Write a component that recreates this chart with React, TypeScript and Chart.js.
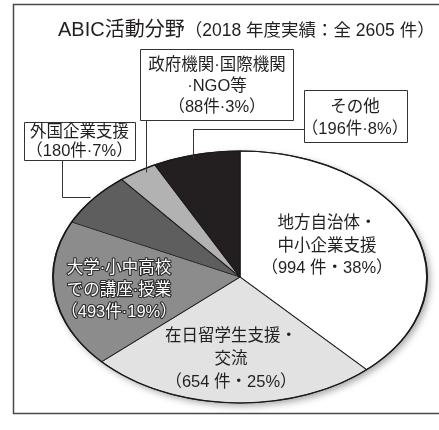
import React, { useEffect, useRef } from "react";
import { Chart, registerables } from "chart.js";

Chart.register(...registerables);

// ---- data ----
const categories = [
  "地方自治体・中小企業支援",
  "在日留学生支援・交流",
  "大学·小中高校での講座·授業",
  "外国企業支援",
  "政府機関·国際機関·NGO等",
  "その他",
];
const counts = [994, 654, 493, 180, 88, 196];
const percents = [38, 25, 19, 7, 3, 8];
const sliceColors = ["#ffffff", "#e2e2e2", "#8c8c8c", "#5e5e5e", "#b2b2b2", "#231f20"];
const titleMain = "ABIC活動分野";
const titleSub = "（2018 年度実績：全 2605 件）";

const labelLines: string[][] = [
  ["地方自治体・", "中小企業支援", `（${counts[0]} 件・${percents[0]}%）`],
  ["在日留学生支援・", "交流", `（${counts[1]} 件・${percents[1]}%）`],
  ["大学·小中高校", "での講座·授業", `（${counts[2]}件·${percents[2]}%）`],
  ["外国企業支援", `（${counts[3]}件·${percents[3]}%）`],
  ["政府機関·国際機関", "·NGO等", `（${counts[4]}件·${percents[4]}%）`],
  ["その他", `（${counts[5]}件·${percents[5]}%）`],
];

// ---- layout (positions / styles) ----
const ELLIPSE = { cx: 240, cy: 277, rx: 187, ry: 126 };
const FONT = '"Liberation Sans", "Noto Sans CJK JP", sans-serif';
const TEXT = "#231f20";

type Inside = { idx: number; x: number; ys: number[]; outline?: boolean };
const insideLabels: Inside[] = [
  { idx: 0, x: 327, ys: [223, 246, 268] },
  { idx: 1, x: 231, ys: [336, 359, 382] },
  { idx: 2, x: 119, ys: [268, 290, 312], outline: true },
];
type Callout = { idx: number; box: number[]; x: number; ys: number[]; leader: number[][] };
const callouts: Callout[] = [
  { idx: 4, box: [140, 49, 293, 120], x: 217, ys: [65, 86, 107], leader: [[146, 120], [146, 172]] },
  { idx: 5, box: [304, 90, 407, 142], x: 355, ys: [107, 129], leader: [[304, 129], [193, 129], [193, 158]] },
  { idx: 3, box: [24, 122, 135, 160], x: 79.5, ys: [132, 151], leader: [[62, 160], [62, 197], [90, 197]] },
];

const ellipsePlugin = {
  id: "ellipsePie",
  beforeDraw(chart: any) {
    const ctx = chart.ctx;
    ctx.save();
    ctx.fillStyle = "#fff";
    ctx.fillRect(0, 0, chart.width, chart.height);
    ctx.strokeStyle = "#4a4a4a";
    ctx.lineWidth = 1.5;
    ctx.strokeRect(13.5, 4.5, 500, 409);
    ctx.restore();
  },
  beforeDatasetsDraw(chart: any) {
    const arc = chart.getDatasetMeta(0).data[0];
    const { x, y, outerRadius } = arc;
    const ctx = chart.ctx;
    ctx.save();
    ctx.translate(ELLIPSE.cx, ELLIPSE.cy);
    ctx.scale(ELLIPSE.rx / outerRadius, ELLIPSE.ry / outerRadius);
    ctx.translate(-x, -y);
    ctx.save();
    ctx.shadowColor = "rgba(0,0,0,0.35)";
    ctx.shadowBlur = 7;
    ctx.shadowOffsetX = 3;
    ctx.shadowOffsetY = 3;
    ctx.beginPath();
    ctx.arc(x, y, outerRadius, 0, Math.PI * 2);
    ctx.fillStyle = "#fff";
    ctx.fill();
    ctx.restore();
  },
  afterDatasetsDraw(chart: any) {
    const arc = chart.getDatasetMeta(0).data[0];
    const { x, y, outerRadius } = arc;
    const ctx = chart.ctx;
    ctx.beginPath();
    ctx.arc(x, y, outerRadius, 0, Math.PI * 2);
    ctx.strokeStyle = "#1a1a1a";
    ctx.lineWidth = 1.8;
    ctx.stroke();
    ctx.restore();
  },
  afterDraw(chart: any) {
    const ctx = chart.ctx;
    ctx.save();
    // title
    ctx.fillStyle = TEXT;
    ctx.textBaseline = "alphabetic";
    ctx.textAlign = "left";
    ctx.font = `20px ${FONT}`;
    ctx.fillText(titleMain, 58, 36);
    const w = ctx.measureText(titleMain).width;
    ctx.font = `17.5px ${FONT}`;
    ctx.fillText(titleSub, 58 + w, 36);

    ctx.textAlign = "center";
    ctx.textBaseline = "middle";
    // inside labels
    for (const l of insideLabels) {
      ctx.font = `16.5px ${FONT}`;
      labelLines[l.idx].forEach((t, i) => {
        if (l.outline) {
          ctx.lineJoin = "round";
          ctx.lineWidth = 2.2;
          ctx.strokeStyle = "#2a2a2a";
          ctx.strokeText(t, l.x, l.ys[i]);
          ctx.fillStyle = "#ffffff";
        } else {
          ctx.fillStyle = TEXT;
        }
        ctx.fillText(t, l.x, l.ys[i]);
      });
    }
    // callouts
    for (const c of callouts) {
      ctx.strokeStyle = "#333";
      ctx.lineWidth = 1;
      ctx.beginPath();
      c.leader.forEach((p, i) => (i === 0 ? ctx.moveTo(p[0] + 0.5, p[1] + 0.5) : ctx.lineTo(p[0] + 0.5, p[1] + 0.5)));
      ctx.stroke();
      const [x0, y0, x1, y1] = c.box;
      ctx.fillStyle = "#fff";
      ctx.fillRect(x0, y0, x1 - x0, y1 - y0);
      ctx.strokeRect(x0 + 0.5, y0 + 0.5, x1 - x0, y1 - y0);
      ctx.fillStyle = TEXT;
      ctx.font = `16.5px ${FONT}`;
      labelLines[c.idx].forEach((t, i) => ctx.fillText(t, c.x, c.ys[i]));
    }
    ctx.restore();
  },
};

export default function App() {
  const ref = useRef<HTMLCanvasElement>(null);
  useEffect(() => {
    if (!ref.current) return;
    const chart = new Chart(ref.current, {
      type: "pie",
      data: {
        labels: categories,
        datasets: [
          {
            data: counts,
            backgroundColor: sliceColors,
            borderColor: "#1a1a1a",
            borderWidth: 1.2,
          },
        ],
      },
      options: {
        responsive: false,
        animation: false,
        events: [],
        layout: { padding: { left: 32, right: 33, top: 28, bottom: 28 } },
        plugins: { legend: { display: false }, tooltip: { enabled: false }, title: { display: false } },
      },
      plugins: [ellipsePlugin],
    });
    return () => chart.destroy();
  }, []);
  return (
    <div style={{ position: "absolute", left: 0, top: 0, width: 439, height: 430, background: "#fff" }}>
      <canvas ref={ref} width={439} height={430} style={{ display: "block" }} />
    </div>
  );
}
